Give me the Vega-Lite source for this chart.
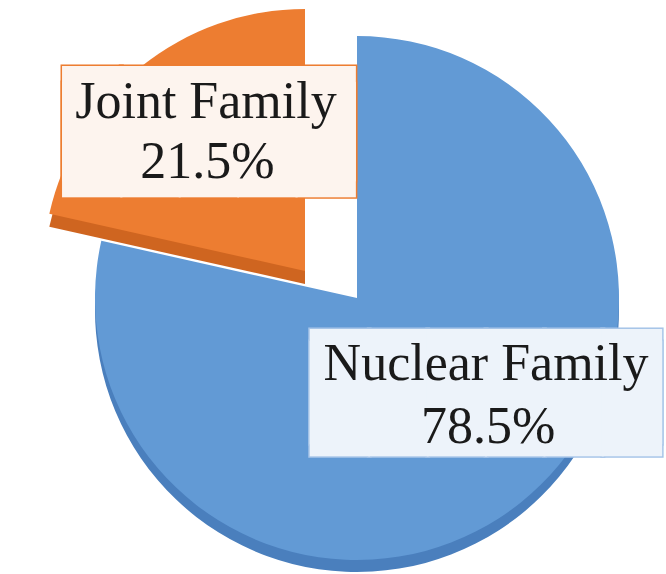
{
  "$schema": "https://vega.github.io/schema/vega-lite/v6.json",
  "width": 618,
  "height": 548,
  "autosize": "none",
  "padding": {"left": 48, "top": 24, "right": 0, "bottom": 2},
  "background": "white",
  "view": {"stroke": null},
  "data": {"values": [
    {"Family": "Nuclear Family", "Share": 0.785},
    {"Family": "Joint Family", "Share": 0.215}
  ]},
  "encoding": {
    "theta": {"field": "Share", "type": "quantitative", "stack": true, "scale": {"domain": [0, 1]}},
    "order": {"field": "Share", "sort": "descending"}
  },
  "layer": [
    {
      "mark": {"type": "arc", "outerRadius": 262, "yOffset": 12, "color": "#4a7fbd"},
      "encoding": {"opacity": {"condition": {"test": "datum.Family === 'Nuclear Family'", "value": 1}, "value": 0}}
    },
    {
      "mark": {"type": "arc", "outerRadius": 262, "color": "#629ad5"},
      "encoding": {"opacity": {"condition": {"test": "datum.Family === 'Nuclear Family'", "value": 1}, "value": 0}}
    },
    {
      "mark": {"type": "arc", "outerRadius": 262, "xOffset": -52, "yOffset": -14, "color": "#cf6520"},
      "encoding": {"opacity": {"condition": {"test": "datum.Family === 'Joint Family'", "value": 1}, "value": 0}}
    },
    {
      "mark": {"type": "arc", "outerRadius": 262, "xOffset": -52, "yOffset": -27, "color": "#ed7d31"},
      "encoding": {"opacity": {"condition": {"test": "datum.Family === 'Joint Family'", "value": 1}, "value": 0}}
    },
    {
      "mark": {"type": "text", "font": "DejaVu Sans Mono", "fontSize": 97, "lineHeight": 16, "baseline": "middle", "align": "center", "dx": -23, "dy": -14, "color": "#ed7d31", "stroke": "#ed7d31", "strokeWidth": 3},
      "encoding": {
        "radius": {"value": 200},
        "text": {"value": ["█████", "█████"]},
        "opacity": {"condition": {"test": "datum.Family === 'Joint Family'", "value": 1}, "value": 0}
      }
    },
    {
      "mark": {"type": "text", "font": "DejaVu Sans Mono", "fontSize": 97, "lineHeight": 16, "baseline": "middle", "align": "center", "dx": -23, "dy": -14, "color": "#fdf4ee"},
      "encoding": {
        "radius": {"value": 200},
        "text": {"value": ["█████", "█████"]},
        "opacity": {"condition": {"test": "datum.Family === 'Joint Family'", "value": 1}, "value": 0}
      }
    },
    {
      "mark": {"type": "text", "font": "Liberation Serif", "fontSize": 52, "baseline": "alphabetic", "align": "center", "dx": -26, "dy": -24, "color": "#1a1a1a"},
      "encoding": {
        "radius": {"value": 200},
        "text": {"field": "Family"},
        "opacity": {"condition": {"test": "datum.Family === 'Joint Family'", "value": 1}, "value": 0}
      }
    },
    {
      "mark": {"type": "text", "font": "Liberation Serif", "fontSize": 52, "baseline": "alphabetic", "align": "center", "dx": -24.5, "dy": 36, "color": "#1a1a1a"},
      "encoding": {
        "radius": {"value": 200},
        "text": {"field": "Share", "format": ".1%"},
        "opacity": {"condition": {"test": "datum.Family === 'Joint Family'", "value": 1}, "value": 0}
      }
    },
    {
      "mark": {"type": "text", "font": "DejaVu Sans Mono", "fontSize": 97, "lineHeight": 12, "baseline": "middle", "align": "center", "dx": 4, "dy": -63, "color": "#a7c5e8", "stroke": "#a7c5e8", "strokeWidth": 3},
      "encoding": {
        "radius": {"value": 200},
        "text": {"value": ["██████", "██████"]},
        "opacity": {"condition": {"test": "datum.Family === 'Nuclear Family'", "value": 1}, "value": 0}
      }
    },
    {
      "mark": {"type": "text", "font": "DejaVu Sans Mono", "fontSize": 97, "lineHeight": 12, "baseline": "middle", "align": "center", "dx": 4, "dy": -63, "color": "#edf3fa"},
      "encoding": {
        "radius": {"value": 200},
        "text": {"value": ["██████", "██████"]},
        "opacity": {"condition": {"test": "datum.Family === 'Nuclear Family'", "value": 1}, "value": 0}
      }
    },
    {
      "mark": {"type": "text", "font": "Liberation Serif", "fontSize": 52, "baseline": "alphabetic", "align": "center", "dx": 4, "dy": -74, "color": "#1a1a1a"},
      "encoding": {
        "radius": {"value": 200},
        "text": {"field": "Family"},
        "opacity": {"condition": {"test": "datum.Family === 'Nuclear Family'", "value": 1}, "value": 0}
      }
    },
    {
      "mark": {"type": "text", "font": "Liberation Serif", "fontSize": 52, "baseline": "alphabetic", "align": "center", "dx": 6, "dy": -11, "color": "#1a1a1a"},
      "encoding": {
        "radius": {"value": 200},
        "text": {"field": "Share", "format": ".1%"},
        "opacity": {"condition": {"test": "datum.Family === 'Nuclear Family'", "value": 1}, "value": 0}
      }
    }
  ]
}
